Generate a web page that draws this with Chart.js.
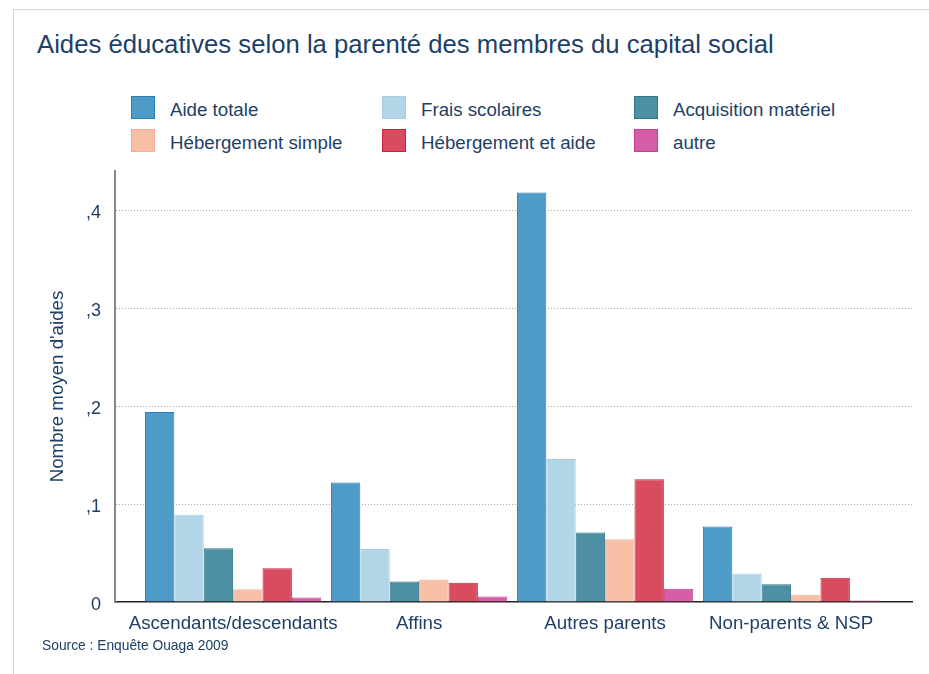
<!DOCTYPE html>
<html>
<head>
<meta charset="utf-8">
<script src="https://cdn.jsdelivr.net/npm/chart.js@4"></script>
<style>
  body { margin: 0; background: #fff; font-family: "Liberation Sans", Arial, sans-serif; color: #1e3f66; }
  #wrap { position: relative; width: 929px; height: 674px; overflow: hidden; }
  #frame { position: absolute; left: 13px; top: 9px; right: -2px; bottom: -2px; border-top: 1px solid #d6d6d6; border-left: 1px solid #d6d6d6; }
  #title { position: absolute; left: 37px; top: 30px; font-size: 25.7px; white-space: nowrap; }
  #legend .item { position: absolute; font-size: 18.7px; white-space: nowrap; }
  #legend .box { position: absolute; width: 24px; height: 23px; box-sizing: border-box; border: 1px solid; }
  #source { position: absolute; left: 42px; top: 638px; font-size: 13.8px; }
  canvas { position: absolute; left: 0; top: 0; }
</style>
</head>
<body>
<div id="wrap">
  <div id="frame"></div>
  <div id="title">Aides éducatives selon la parenté des membres du capital social</div>
  <div id="legend"></div>
  <canvas id="chart" width="929" height="674"></canvas>
  <div id="source">Source : Enquête Ouaga 2009</div>
</div>
<script>
const categories = ['Ascendants/descendants', 'Affins', 'Autres parents', 'Non-parents & NSP'];
const seriesNames = ['Aide totale', 'Frais scolaires', 'Acquisition matériel', 'Hébergement simple', 'Hébergement et aide', 'autre'];

const aideTotale = [0.194, 0.122, 0.418, 0.077];
const fraisScolaires = [0.089, 0.054, 0.146, 0.029];
const acquisitionMateriel = [0.055, 0.021, 0.071, 0.018];
const hebergementSimple = [0.013, 0.023, 0.064, 0.0075];
const hebergementEtAide = [0.0345, 0.0197, 0.1253, 0.0248];
const autre = [0.0045, 0.0056, 0.0135, 0.0015];

const yTicks = [0, 0.1, 0.2, 0.3, 0.4];
const yTickLabels = ['0', ',1', ',2', ',3', ',4'];

const fills = ['#4f9bc8', '#b3d5e8', '#4e90a3', '#f6bfa6', '#d94c60', '#d65ea6'];
const borders = ['#2a7db5', '#a6cde3', '#2d7589', '#f3ad90', '#c9223f', '#c63c91'];

const seriesValues = [aideTotale, fraisScolaires, acquisitionMateriel, hebergementSimple, hebergementEtAide, autre];

const textColor = '#1e3f66';
const labelFont = { family: '"Liberation Sans", Arial, sans-serif', size: 18.7 };

// legend in three fixed columns, like the original
const legendCols = [131, 382, 634];
const legendRows = [96, 129];
const legend = document.getElementById('legend');
seriesNames.forEach((name, i) => {
    const col = legendCols[i % 3];
    const row = legendRows[Math.floor(i / 3)];
    const box = document.createElement('div');
    box.className = 'box';
    box.style.left = col + 'px';
    box.style.top = row + 'px';
    box.style.background = fills[i];
    box.style.borderColor = borders[i];
    legend.appendChild(box);
    const label = document.createElement('div');
    label.className = 'item';
    label.style.left = (col + 39) + 'px';
    label.style.top = (row + 3) + 'px';
    label.textContent = name;
    legend.appendChild(label);
});

new Chart(document.getElementById('chart'), {
    type: 'bar',
    data: {
        datasets: seriesNames.map((name, s) => ({
            label: name,
            data: categories.map((c, i) => ({ x: i, y: seriesValues[s][i] })),
            backgroundColor: fills[s],
            borderColor: borders[s],
            borderWidth: 1,
            barPercentage: 1,
            categoryPercentage: 0.948
        }))
    },
    options: {
        responsive: false,
        animation: false,
        layout: { padding: { top: 171, right: 17, bottom: 32, left: 0 } },
        plugins: { legend: { display: false }, tooltip: { enabled: false } },
        scales: {
            x: {
                type: 'linear',
                offset: false,
                min: -0.635,
                max: 3.65,
                afterBuildTicks: s => { s.ticks = categories.map((c, i) => ({ value: i })); },
                afterFit: s => { s.height = 40; },
                grid: { display: false },
                border: { display: true, color: '#222', width: 1.5 },
                ticks: {
                    autoSkip: false,
                    maxRotation: 0,
                    padding: 3,
                    color: textColor,
                    font: labelFont,
                    callback: v => categories[v] ?? ''
                }
            },
            y: {
                min: 0,
                max: 0.44,
                afterBuildTicks: s => { s.ticks = yTicks.map(v => ({ value: v })); },
                afterFit: s => { s.width = 115; },
                grid: {
                    drawTicks: false,
                    color: ctx => ctx.tick && ctx.tick.value === 0 ? 'rgba(0,0,0,0)' : '#a8a8a8',
                    lineWidth: 1
                },
                border: { display: true, color: '#888', width: 2, dash: [1, 2] },
                ticks: {
                    padding: 14,
                    labelOffset: 3,
                    color: textColor,
                    font: { family: labelFont.family, size: 18 },
                    callback: (v, i) => yTickLabels[i]
                },
                title: {
                    display: true,
                    text: "Nombre moyen d'aides",
                    color: textColor,
                    font: labelFont,
                    padding: { top: 47, bottom: 0 }
                }
            }
        }
    }
});
</script>
</body>
</html>
